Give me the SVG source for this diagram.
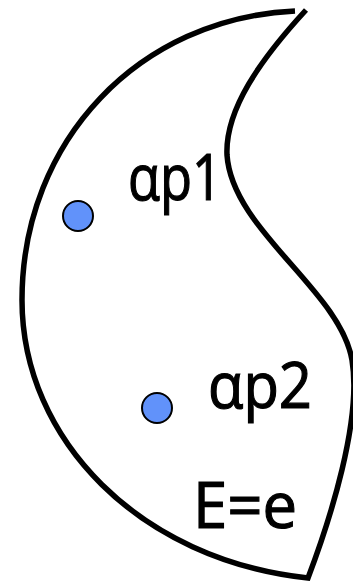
<svg xmlns="http://www.w3.org/2000/svg" width="353" height="586" viewBox="0 0 353 586">
  <style>
    .outline { fill: none; stroke: #000; stroke-width: 5.5; stroke-linejoin: miter; stroke-linecap: butt; }
    .point { fill: #6192fa; stroke: #000; stroke-width: 2; }
    .label { font-family: "Open Sans", "DejaVu Sans", sans-serif; font-size: 64px; fill: #000; stroke: #000; stroke-width: 1.2; }
  </style>
  <rect width="353" height="586" fill="#fff"/>
  <!-- region boundary: open at the top, pointed at the bottom -->
  <g id="region">
    <path class="outline" d="M295,11 C140,18 22,140 22,300 C22,440 140,560 308,578 C330,520 362,420 352,360 C340,290 232,230 227,155 C225,110 260,60 306,10"/>
    <text class="label" x="193" y="528" textLength="104" lengthAdjust="spacingAndGlyphs">E=e</text>
  </g>
  <g id="ap1">
    <circle class="point" cx="78" cy="216" r="15"/>
    <text class="label" x="128" y="200" textLength="94" lengthAdjust="spacingAndGlyphs">αp1</text>
  </g>
  <g id="ap2">
    <circle class="point" cx="157" cy="408" r="15"/>
    <text class="label" x="208" y="408" textLength="104" lengthAdjust="spacingAndGlyphs">αp2</text>
  </g>
</svg>
